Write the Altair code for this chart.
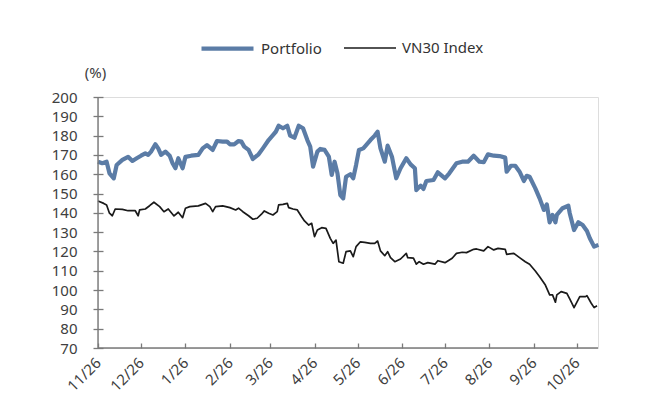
import altair as alt
import pandas as pd

# ---- data (day offset from 2021-11-26, value in %) ----
START = "2021-11-26"

port_days = [0, 3, 6, 8, 11, 13, 17, 21, 24, 27,
             30, 33, 35, 37, 40, 42, 44, 47, 50, 52,
             54, 56, 59, 61, 65, 70, 73, 76, 80, 83,
             87, 90, 92, 95, 98, 100, 102, 105, 108, 112,
             115, 119, 122, 124, 126, 129, 132, 134, 137, 140,
             143, 146, 148, 150, 153, 155, 158, 161, 163, 165,
             167, 169, 171, 173, 176, 178, 180, 182, 185, 187,
             190, 193, 195, 197, 200, 202, 205, 208, 211, 215,
             218, 221, 222, 225, 227, 229, 234, 237, 242, 245,
             250, 254, 258, 262, 266, 269, 272, 276, 280, 284,
             285, 288, 291, 294, 297, 299, 301, 305, 308, 311,
             313, 315, 317, 319, 320, 324, 328, 329, 332, 335,
             338, 341, 343, 346, 349]
port_vals = [166.5, 165.7, 166.5, 160.5, 157.9, 164.8, 167.4, 169, 166.9, 168.3,
             169.6, 170.8, 170, 171.7, 175.5, 173.4, 170, 171.7, 169.6, 165.7,
             163.1, 168.3, 163.1, 169, 169.6, 170, 173.4, 175.1, 172.6, 177.2,
             176.9, 176.9, 175.5, 175.5, 177.2, 176.9, 174.3, 172.6, 167.9, 170.3,
             173.4, 177.7, 180.3, 182, 185.1, 183.8, 185.1, 180, 178.9, 185.1,
             183.8, 177.7, 174.3, 163.9, 171.7, 173.1, 172.6, 169.1, 159.6, 166.5,
             160.5, 149.2, 147.5, 158.7, 160, 157.9, 164.8, 172.6, 173.4, 175.1,
             177.7, 180, 182, 173.4, 166.5, 174.8, 169.1, 157.9, 163.1, 168.3,
             165.1, 163.1, 151.8, 154.1, 152.4, 156.5, 157, 161, 157.9, 160.5,
             165.7, 166.5, 166.5, 169.6, 166.5, 166.2, 170.3, 169.6, 169.4, 168.6,
             161.3, 164.4, 164.4, 161.3, 156.5, 159.2, 158.7, 152.7, 147.5, 141.5,
             144.4, 135.1, 138.9, 135.1, 138.9, 142.4, 143.7, 139.8, 131.1, 135.1,
             133.7, 130.6, 126.8, 122.5, 123.4]

vn_days = [0, 4, 6, 8, 10, 12, 17, 21, 26, 28,
           29, 33, 36, 39, 43, 46, 49, 53, 56, 59,
           61, 64, 70, 75, 78, 80, 82, 87, 92, 96,
           98, 101, 105, 108, 111, 114, 116, 119, 122, 125,
           126, 129, 132, 133, 136, 139, 142, 144, 147, 149,
           151, 153, 156, 159, 162, 164, 166, 168, 171, 173,
           176, 178, 180, 183, 186, 190, 193, 195, 197, 200,
           202, 204, 207, 211, 215, 216, 220, 222, 224, 227,
           230, 235, 237, 242, 247, 250, 254, 257, 262, 264,
           269, 272, 276, 279, 284, 285, 290, 294, 298, 301,
           305, 308, 312, 315, 317, 319, 320, 323, 327, 329,
           332, 336, 340, 341, 344, 346, 348]
vn_vals = [146.1, 144.9, 144.1, 139.8, 138.5, 142, 141.8, 141.1, 141.1, 138.5,
           141.5, 142, 143.7, 145.5, 143.2, 140.6, 142, 138.4, 140.3, 137.5,
           142.4, 143.2, 143.6, 144.9, 143.2, 140.6, 143.2, 143.6, 142.7, 141.5,
           142.4, 140.6, 138.5, 136.7, 137.2, 139.3, 141, 139.8, 138.9, 140.6,
           144.1, 144.4, 144.9, 142.7, 142, 141.5, 138, 135.8, 133.7, 134.6,
           127.7, 131.1, 132.3, 132, 126.8, 124.2, 125.9, 114.7, 113.9, 119.9,
           120.3, 117.3, 122.5, 125, 124.7, 124.2, 124.2, 125.4, 120.3, 117.8,
           119.9, 116.8, 114.7, 116.1, 119, 116.8, 116.5, 113.4, 114.7, 113.4,
           114.2, 113.4, 115.2, 114.2, 116.5, 119, 119.6, 119.4, 121.1, 121.3,
           120.3, 122.5, 120.8, 121.6, 121.1, 118.5, 119, 116.8, 114.7, 113.4,
           109.9, 106.9, 102.6, 97.5, 97.5, 93.7, 97.5, 99.2, 98.3, 95.4,
           90.9, 96.6, 96.6, 97.1, 93.2, 90.9, 91.9]

series_names = ["Portfolio", "VN30 Index"]
series_colors = ["#5b7ca6", "#1a1a1a"]
series_widths = [4.2, 1.7]
y_ticks = list(range(70, 201, 10))
tick_months = [(2021, 11), (2021, 12), (2022, 1), (2022, 2), (2022, 3), (2022, 4),
               (2022, 5), (2022, 6), (2022, 7), (2022, 8), (2022, 9), (2022, 10)]

start = pd.Timestamp(START)


def to_dates(days):
    return [(start + pd.Timedelta(days=d)).strftime("%Y-%m-%d") for d in days]


df = pd.concat([
    pd.DataFrame({"date": to_dates(port_days), "value": port_vals, "series": series_names[0]}),
    pd.DataFrame({"date": to_dates(vn_days), "value": vn_vals, "series": series_names[1]}),
], ignore_index=True)

W, H = 500, 251
AXIS_COLOR = "#7a7a7a"
TEXT_COLOR = "#404040"
FONT = "Noto Sans"

legend = alt.Legend(title=None, orient="none", legendX=101, legendY=-77,
                    direction="horizontal", symbolType="stroke", symbolSize=2704,
                    labelFontSize=15, labelFont=FONT, labelColor="#333333",
                    labelOffset=5, columnPadding=18, padding=0)

x_enc = alt.X("date:T",
              scale=alt.Scale(type="utc",
                              domain=[alt.DateTime(year=2021, month=11, date=26, utc=True),
                                      alt.DateTime(year=2022, month=11, date=9, hours=17, utc=True)]),
              axis=alt.Axis(values=[alt.DateTime(year=y, month=m, date=26, utc=True) for y, m in tick_months],
                            domain=False, offset=-5, tickSize=5, tickColor=AXIS_COLOR, tickWidth=1.3,
                            labelAngle=-45, labelAlign="right", labelBaseline="middle",
                            labelPadding=12, labelFontSize=15, labelFont=FONT, labelColor=TEXT_COLOR,
                            labelExpr="utcFormat(datum.value, '%-m/%d')",
                            labelOverlap=False, labelFlush=False, grid=False, title=None))

y_enc = alt.Y("value:Q",
              scale=alt.Scale(domain=[70, 200], nice=False, zero=False),
              axis=alt.Axis(values=y_ticks, domain=False, offset=-5, tickSize=10,
                            tickColor=AXIS_COLOR, tickWidth=1.3,
                            labelFontSize=15, labelFont=FONT, labelColor=TEXT_COLOR,
                            labelPadding=16, grid=False,
                            title="(%)", titleAngle=0, titleX=-8, titleY=-25,
                            titleAlign="center", titleBaseline="middle",
                            titleFontSize=15, titleFont=FONT, titleFontWeight="normal",
                            titleColor=TEXT_COLOR))

lines = alt.Chart(df).mark_line(strokeJoin="round").encode(
    x=x_enc,
    y=y_enc,
    color=alt.Color("series:N", scale=alt.Scale(domain=series_names, range=series_colors), legend=legend),
    strokeWidth=alt.StrokeWidth("series:N", scale=alt.Scale(domain=series_names, range=series_widths), legend=legend),
    detail="series:N",
)

dummy = pd.DataFrame({"k": [0]})
y_line = alt.Chart(dummy).mark_rule(color=AXIS_COLOR, strokeWidth=1.4).encode(
    x=alt.value(0), y=alt.value(0), y2=alt.value(H))
x_line = alt.Chart(dummy).mark_rule(color=AXIS_COLOR, strokeWidth=1.4).encode(
    x=alt.value(0), x2=alt.value(W), y=alt.value(H))

chart = alt.layer(lines, y_line, x_line).properties(
    width=W, height=H,
    autosize=alt.AutoSizeParams(type="none"),
    padding={"left": 90, "top": 89, "right": 40, "bottom": 50},
).configure_view(stroke=None).configure(font=FONT)

chart.save("out.html", embed_options={"renderer": "svg", "actions": False})
